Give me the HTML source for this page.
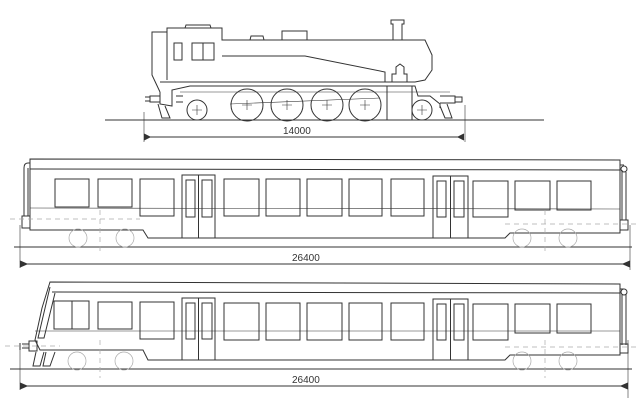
<!DOCTYPE html>
<html><head><meta charset="utf-8"><style>
html,body{margin:0;padding:0;background:#fff;}
svg{display:block}
text{font-family:"Liberation Sans",sans-serif;font-size:10px;fill:#333;stroke:none}
</style></head><body>
<svg width="640" height="414" viewBox="0 0 640 414" xmlns="http://www.w3.org/2000/svg">
<rect width="640" height="414" fill="#fff"/>
<g fill="none" stroke="#333" stroke-width="1">
<!-- LOCOMOTIVE -->
<line x1="105" y1="120" x2="544" y2="120"/>
<line x1="144" y1="137" x2="464" y2="137"/>
<path d="M144 134 L150 137 L144 140 M464 134 L458 137 L464 140" fill="#333"/>
<line x1="144" y1="112" x2="144" y2="142" stroke-width=".6"/>
<line x1="465" y1="105" x2="465" y2="142" stroke-width=".6"/>
<path d="M160 92 L152 75 L152 32 L167 32 L167 28 L222 28 L222 40 L425 40 L432 55 L432 70 L425 80 L415 82 L160 82"/>
<line x1="167" y1="32" x2="167" y2="80"/>
<path d="M185 28 L186 25 L210 25 L211 28"/>
<path d="M250 40 L251 36 L263 36 L264 40"/>
<path d="M282 40 L282 31 L307 31 L307 40"/>
<path d="M393 40 L393 24 L391 24 L391 20 L404 20 L404 24 L402 24 L402 40"/>
<rect x="174" y="43" width="8" height="17"/>
<rect x="192" y="43" width="22" height="17"/>
<line x1="203" y1="43" x2="203" y2="60"/>
<path d="M222 56 L305 56 L385 72 L385 82"/>
<path d="M392 82 L392 74 L396 74 L396 67 L400 64 L404 67 L404 74 L407 74 L407 82"/>
<path d="M160 92 L160 104 L172 106 L172 90 L190 86 L415 86 L418 96 L430 96 L440 104 L440 108"/>
<rect x="387" y="86" width="25" height="34"/>
<line x1="180" y1="92" x2="450" y2="92" stroke-width=".6"/>
<path d="M150 96 L160 96 L160 102 L150 102 Z M145 97 L150 97 L150 101 L145 101"/>
<path d="M440 96 L455 96 L455 103 L440 103 M455 97 L462 97 L462 102 L455 102"/>
<path d="M158 104 L162 118 L170 118 L165 106"/>
<path d="M440 106 L445 118 L452 118 L447 104"/>
<line x1="176" y1="96" x2="183" y2="96"/><line x1="176" y1="102" x2="183" y2="102"/>
<circle cx="247" cy="105" r="16"/><circle cx="287" cy="105" r="16"/>
<circle cx="327" cy="105" r="16"/><circle cx="365" cy="105" r="16"/>
<circle cx="197" cy="110" r="10"/><circle cx="422" cy="110" r="10"/>
<g stroke-width=".6">
<path d="M242 105h10M247 100v10M282 105h10M287 100v10M322 105h10M327 100v10M360 105h10M365 100v10M192 110h10M197 105v10M417 110h10M422 105v10"/>
<path d="M230 104 L380 98" />
</g>

<!-- CAR 1 -->
<line x1="14" y1="247" x2="632" y2="247"/>
<line x1="20" y1="264" x2="630" y2="264"/>
<path d="M20 261 L27 264 L20 267 M630 261 L623 264 L630 267" fill="#333"/>
<line x1="20" y1="225" x2="20" y2="268" stroke-width=".6"/>
<line x1="630" y1="225" x2="630" y2="270" stroke-width=".6"/>
<path d="M30 230 L30 159 L620 160 L620 233 L510 233 L505 238 L148 238 L143 230 Z"/>
<line x1="30" y1="169" x2="620" y2="170"/>
<line x1="30" y1="208" x2="620" y2="209" stroke-width=".6"/>
<path d="M24 216 L24 168 Q24 163 28 163 L30 163 M28 168 L28 216"/>
<rect x="22" y="216" width="8" height="12"/>
<path d="M620 165 L624 165 M622 170 L622 220 M626 172 L626 220"/>
<circle cx="624" cy="169" r="3"/>
<rect x="620" y="220" width="8" height="10"/>
<rect x="55" y="179" width="34" height="28"/>
<rect x="98" y="179" width="34" height="28"/>
<rect x="140" y="179" width="34" height="37"/>
<rect x="182" y="175" width="33" height="63"/><line x1="198.5" y1="175" x2="198.5" y2="238"/>
<rect x="186" y="180" width="9" height="37"/><rect x="202" y="180" width="10" height="37"/>
<rect x="224" y="179" width="35" height="37"/>
<rect x="266" y="179" width="34" height="37"/>
<rect x="307" y="179" width="35" height="37"/>
<rect x="349" y="179" width="33" height="37"/>
<rect x="391" y="179" width="33" height="37"/>
<rect x="433" y="176" width="35" height="62"/><line x1="450.5" y1="176" x2="450.5" y2="238"/>
<rect x="437" y="181" width="9" height="36"/><rect x="454" y="181" width="10" height="36"/>
<rect x="473" y="181" width="35" height="36"/>
<rect x="515" y="181" width="35" height="29"/>
<rect x="557" y="181" width="34" height="29"/>
<g stroke="#aaa" stroke-width=".7">
<circle cx="78" cy="238" r="9"/><circle cx="125" cy="238" r="9"/>
<circle cx="522" cy="238" r="9"/><circle cx="568" cy="238" r="9"/>
<path d="M10 219 H140 M100 210 V255 M545 210 V255 M505 224 H640" stroke-dasharray="5 4"/>
</g>

<!-- CAR 2 -->
<line x1="10" y1="369" x2="632" y2="369"/>
<line x1="20" y1="386" x2="628" y2="386"/>
<path d="M20 383 L27 386 L20 389 M628 383 L621 386 L628 389" fill="#333"/>
<line x1="20" y1="350" x2="20" y2="390" stroke-width=".6"/>
<line x1="628" y1="340" x2="628" y2="398" stroke-width=".6"/>
<path d="M50 282 L620 284 L620 355 L510 355 L505 360 L148 360 L143 350 L40 350 L35 340 L42 308 Z"/>
<path d="M52 292 L620 293"/>
<path d="M50 287 L38 338 L44 338 L55 293"/>
<line x1="35" y1="331" x2="620" y2="331" stroke-width=".6"/>
<rect x="54" y="301" width="35" height="28"/><line x1="72" y1="301" x2="72" y2="329"/>
<rect x="98" y="302" width="34" height="27"/>
<rect x="140" y="302" width="34" height="37"/>
<rect x="182" y="298" width="33" height="62"/><line x1="198.5" y1="298" x2="198.5" y2="360"/>
<rect x="186" y="303" width="9" height="36"/><rect x="202" y="303" width="10" height="36"/>
<rect x="224" y="303" width="35" height="37"/>
<rect x="266" y="303" width="34" height="37"/>
<rect x="307" y="303" width="35" height="37"/>
<rect x="349" y="303" width="33" height="37"/>
<rect x="391" y="303" width="33" height="37"/>
<rect x="433" y="299" width="35" height="61"/><line x1="450.5" y1="299" x2="450.5" y2="360"/>
<rect x="437" y="304" width="9" height="36"/><rect x="454" y="304" width="10" height="36"/>
<rect x="473" y="304" width="35" height="36"/>
<rect x="515" y="304" width="35" height="29"/>
<rect x="557" y="304" width="34" height="29"/>
<path d="M620 289 L624 289 M622 294 L622 345 M626 294 L626 345"/>
<circle cx="624" cy="292" r="3"/>
<rect x="620" y="344" width="8" height="9"/>
<rect x="29" y="341" width="8" height="10"/><path d="M22 344 H29 M22 348 H29 M20 343 V350"/>
<path d="M36 352 L33 366 L40 366 L44 352 M46 352 L43 366 L50 366 L55 352"/>
<g stroke="#aaa" stroke-width=".7">
<circle cx="77" cy="361" r="9"/><circle cx="124" cy="361" r="9"/>
<circle cx="522" cy="361" r="9"/><circle cx="568" cy="361" r="9"/>
<path d="M100 340 V378 M545 340 V378 M505 347 H640 M5 346 H60" stroke-dasharray="5 4"/>
</g>
</g>
<text x="283" y="134">14000</text>
<text x="292" y="261">26400</text>
<text x="292" y="383">26400</text>
</svg>
</body></html>
